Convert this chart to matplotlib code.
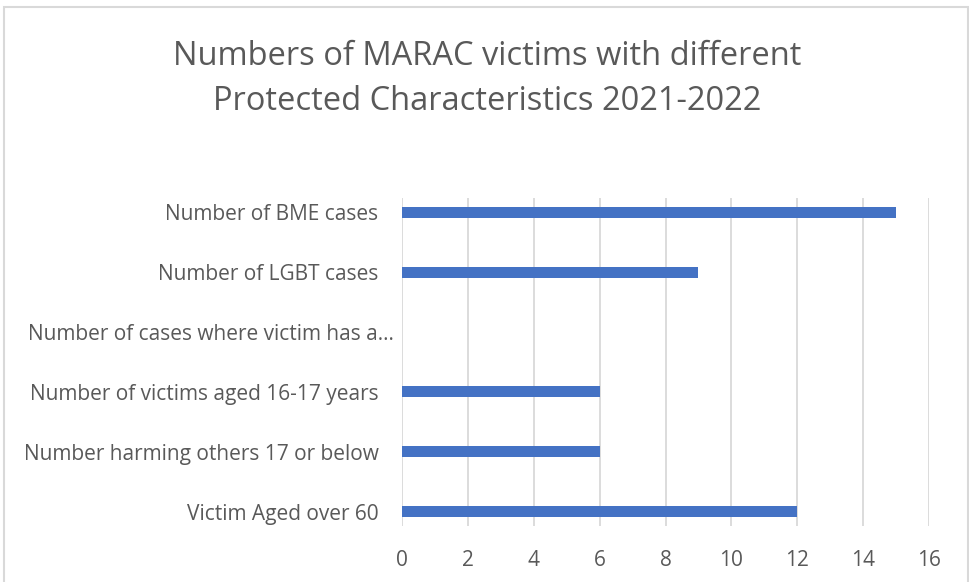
import matplotlib
matplotlib.use('Agg')
import matplotlib.pyplot as plt
from matplotlib.patches import Rectangle
from matplotlib.transforms import ScaledTranslation

# === Data (bottom to top) ===
categories = [
    'Victim Aged over 60',
    'Number harming others 17 or below',
    'Number of victims aged 16-17 years',
    'Number of cases where victim has a\u2026',
    'Number of LGBT cases',
    'Number of BME cases',
]
values = [12, 6, 6, 0, 9, 15]
xticks = [0, 2, 4, 6, 8, 10, 12, 14, 16]
title = 'Numbers of MARAC victims with different\nProtected Characteristics 2021-2022'

plt.rcParams['font.family'] = ['Open Sans', 'DejaVu Sans']
text_col = '#595959'

fig = plt.figure(figsize=(9.69, 5.82), dpi=100)
ax = fig.add_axes([0.4149, 0.0962, 0.5439, 0.5636])

pos = list(range(len(categories)))
ax.barh(pos, values, height=0.184, color='#4472C4', zorder=3)

ax.set_xlim(0, 16)
ax.set_ylim(-0.24, 5.24)
ax.set_xticks(xticks)
ax.set_yticks(pos)
ax.set_yticklabels(categories)
ax.tick_params(axis='both', length=0, labelsize=15, colors=text_col)
ax.tick_params(axis='y', pad=17)
ax.tick_params(axis='x', pad=17)
ax.grid(axis='x', color='#d9d9d9', linewidth=1.3, zorder=0)
for s in ax.spines.values():
    s.set_visible(False)

# truncated label sits a bit further right (ellipsis overhangs)
lab = ax.yaxis.get_major_ticks()[3].label1
lab.set_transform(lab.get_transform() + ScaledTranslation(0.15, 0, fig.dpi_scale_trans))

fig.text(0.5026, 0.864, title, ha='center', va='center', fontsize=23.5,
         color=text_col, linespacing=1.5)

# chart border
fig.patches.append(Rectangle((4 / 969, -0.05), 964 / 969, 1.038, transform=fig.transFigure,
                             fill=False, edgecolor='#d9d9d9', linewidth=1.5))

fig.savefig('out.png', dpi=100)
